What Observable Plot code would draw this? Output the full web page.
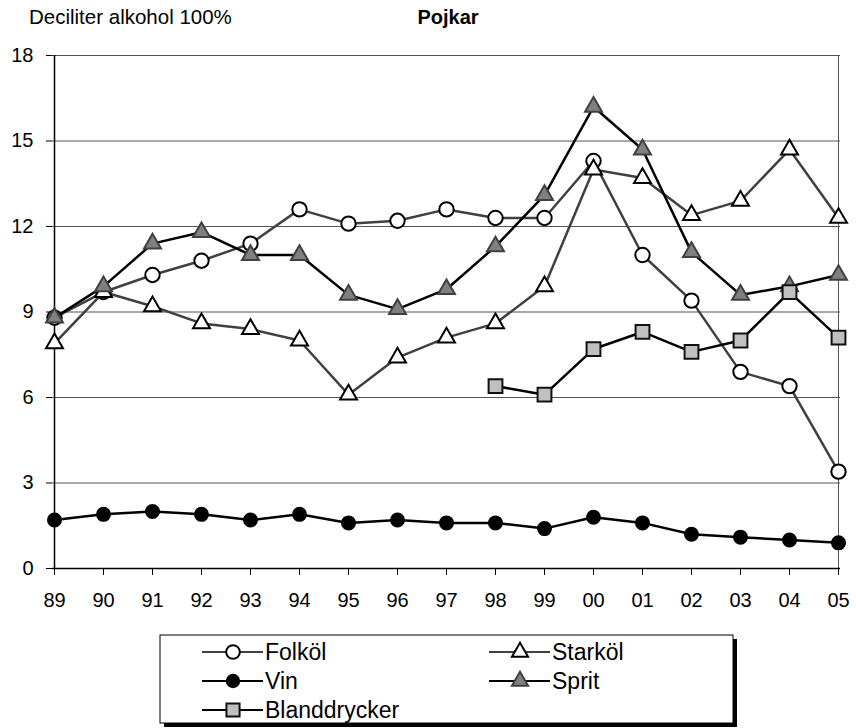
<!DOCTYPE html>
<html><head><meta charset="utf-8">
<script src="https://cdn.jsdelivr.net/npm/d3@7"></script>
<script src="https://cdn.jsdelivr.net/npm/@observablehq/plot@0.6"></script>
<style>
body{margin:0;background:#fff;font-family:"Liberation Sans",Arial,sans-serif;}
#wrap{position:relative;width:856px;height:728px;overflow:hidden;}
</style></head>
<body><div id="wrap">
<div id="chart" style="position:absolute;left:0;top:0;"></div>
<div id="legend" style="position:absolute;left:0;top:0;pointer-events:none;"></div>
</div>
<script>
const years = ["89","90","91","92","93","94","95","96","97","98","99","00","01","02","03","04","05"];
const yTicks = [0,3,6,9,12,15,18];
const folkol = [8.8,9.7,10.3,10.8,11.4,12.6,12.1,12.2,12.6,12.3,12.3,14.3,11.0,9.4,6.9,6.4,3.4];
const starkol = [7.9,9.7,9.2,8.6,8.4,8.0,6.1,7.4,8.1,8.6,9.9,14.0,13.7,12.4,12.9,14.7,12.3];
const vin = [1.7,1.9,2.0,1.9,1.7,1.9,1.6,1.7,1.6,1.6,1.4,1.8,1.6,1.2,1.1,1.0,0.9];
const sprit = [8.8,9.9,11.4,11.8,11.0,11.0,9.6,9.1,9.8,11.3,13.1,16.2,14.7,11.1,9.6,9.9,10.3];
const blandYears = ["98","99","00","01","02","03","04","05"];
const bland = [6.4,6.1,7.7,8.3,7.6,8.0,9.7,8.1];
const yTitle = "Deciliter alkohol 100%";
const chartTitle = "Pojkar";

const seriesNames = ["Folköl","Starköl","Vin","Sprit","Blanddrycker"];
const styles = {
  "Folköl":      {line:"#404040", symbol:"circle",   fill:"#fff",    stroke:"#000", r:7.2},
  "Starköl":     {line:"#404040", symbol:"triangle", fill:"#fff",    stroke:"#000", r:6.3},
  "Vin":         {line:"#000",    symbol:"circle",   fill:"#000",    stroke:"#000", r:6.5},
  "Sprit":       {line:"#000",    symbol:"triangle", fill:"#808080", stroke:"#404040", r:6.3},
  "Blanddrycker":{line:"#000",    symbol:"square",   fill:"#c0c0c0", stroke:"#111", r:7.8}
};
const toRows = (name, xs, vs) => xs.map((x,i)=>({series:name, year:x, value:vs[i]}));
const data = {
  "Folköl": toRows("Folköl", years, folkol),
  "Starköl": toRows("Starköl", years, starkol),
  "Vin": toRows("Vin", years, vin),
  "Sprit": toRows("Sprit", years, sprit),
  "Blanddrycker": toRows("Blanddrycker", blandYears, bland)
};
const FONT = "'Liberation Sans', Arial, Helvetica, sans-serif";

const marks = [
  Plot.ruleY(yTicks.filter(d=>d>0), {stroke:"#555", strokeWidth:1}),
  Plot.ruleX(["05"], {stroke:"#555", strokeWidth:1}),
  Plot.ruleY([0], {stroke:"#000", strokeWidth:1.5}),
  Plot.ruleX(["89"], {stroke:"#000", strokeWidth:1.5}),
  Plot.axisY({ticks:yTicks, tickSize:6, tickPadding:13, fontSize:20, tickFormat:d=>String(d), stroke:"#000"}),
  Plot.axisX({tickSize:7, tickPadding:17, fontSize:20, stroke:"#000"})
];
for (const name of seriesNames) {
  const s = styles[name];
  marks.push(Plot.line(data[name], {x:"year", y:"value", stroke:s.line, strokeWidth:2.5}));
  marks.push(Plot.dot(data[name], {x:"year", y:"value", symbol:()=>s.symbol, r:s.r, fill:s.fill, stroke:s.stroke, strokeWidth:2}));
}

const chart = Plot.plot({
  width:856, height:620,
  marginLeft:52, marginRight:16, marginTop:55, marginBottom:52,
  style:{fontFamily:FONT, fontSize:"20px", color:"#000", background:"transparent", overflow:"visible"},
  x:{type:"point", domain:years, padding:0, label:null},
  y:{domain:[0,18], label:null},
  marks
});
document.getElementById("chart").appendChild(chart);

// Titles + legend overlay
const L = d3.select("#legend").append("svg").attr("width",856).attr("height",728)
  .attr("font-family", FONT);
L.append("text").attr("x",29).attr("y",24).attr("font-size",20.5).text(yTitle);
L.append("text").attr("x",448).attr("y",24).attr("text-anchor","middle").attr("font-size",20).attr("font-weight","bold").text(chartTitle);

const bx=160, by=635, bw=573, bh=88;
L.append("rect").attr("x",bx+4).attr("y",by+4).attr("width",bw).attr("height",bh).attr("fill","#000");
L.append("rect").attr("x",bx).attr("y",by).attr("width",bw).attr("height",bh).attr("fill","#fff").attr("stroke","#000").attr("stroke-width",1);
const pos = {"Folköl":[202,652],"Vin":[202,681],"Blanddrycker":[202,710],"Starköl":[489,652],"Sprit":[489,681]};
const symMap = {circle:d3.symbolCircle, triangle:d3.symbolTriangle, square:d3.symbolSquare};
for (const name of seriesNames) {
  const s = styles[name]; const [x,y] = pos[name];
  L.append("line").attr("x1",x).attr("x2",x+61).attr("y1",y).attr("y2",y).attr("stroke",s.line).attr("stroke-width",2);
  const lr = s.r*0.95;
  L.append("path").attr("transform",`translate(${x+31},${y})`)
    .attr("d", d3.symbol(symMap[s.symbol], Math.PI*lr*lr)())
    .attr("fill",s.fill).attr("stroke",s.stroke).attr("stroke-width",2);
  L.append("text").attr("x",x+63).attr("y",y).attr("dy","0.36em")
    .attr("font-size",23).text(name);
}
</script>
</body></html>
